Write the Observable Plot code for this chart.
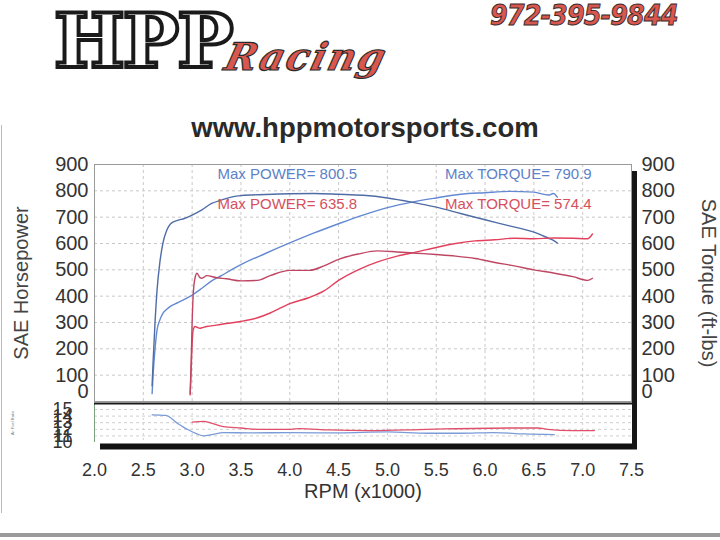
<!DOCTYPE html>
<html>
<head>
<meta charset="utf-8">
<script src="https://cdn.jsdelivr.net/npm/d3@7"></script>
<script src="https://cdn.jsdelivr.net/npm/@observablehq/plot@0.6"></script>
<style>
  html, body { margin: 0; padding: 0; background: #fff; }
  #page { position: relative; width: 720px; height: 540px; overflow: hidden; background: #fff; font-family: "Liberation Sans", Arial, sans-serif; }
  .abs { position: absolute; }
  #hpp { left: 54px; top: 2px; line-height: 1.05; font-family: "DejaVu Serif", serif; font-weight: bold; font-size: 75px; color: #fff;
         -webkit-text-stroke: 4px #1a1a1a; letter-spacing: -2px; white-space: nowrap; }
  #racing { left: 226px; top: 38px; line-height: 1; font-family: "DejaVu Serif", serif; font-style: italic; font-weight: bold; font-size: 38px;
            color: #d9574f; -webkit-text-stroke: 1.2px #2a2a2a; letter-spacing: 2px; transform: skewX(-14deg); white-space: nowrap; }
  #phone { left: 490px; top: 2px; line-height: 1; font-family: "DejaVu Sans", sans-serif; font-style: italic; font-weight: bold; font-size: 28px;
           color: #d9574f; -webkit-text-stroke: 1px #3a2a2a; letter-spacing: -1px; transform: scaleX(0.91); transform-origin: left top; white-space: nowrap; }
  #web { left: 0; width: 730px; top: 112px; text-align: center; font-family: "Liberation Sans", Arial, sans-serif; font-weight: bold;
         font-size: 27.5px; color: #2a2a2a; }
  #edge { left: 1px; top: 125px; width: 1px; height: 388px; background: #bbb; }
  #bottombar { left: 0; top: 533px; width: 720px; height: 4px; background: #9a9a9a; }
</style>
</head>
<body>
<div id="page">
  <div id="hpp" class="abs">HPP</div>
  <div id="racing" class="abs">Racing</div>
  <div id="phone" class="abs">972-395-9844</div>
  <div id="web" class="abs">www.hppmotorsports.com</div>
  <div id="edge" class="abs"></div>
  <div id="bottombar" class="abs"></div>
  <div id="main" class="abs" style="left:0;top:150px;"></div>
  <div id="afr" class="abs" style="left:0;top:400px;"></div>
</div>
<script>
// ---------- Data ----------
// Run 1 (blue)
const blueRpm = [2.59, 2.60, 2.62, 2.64, 2.67, 2.70, 2.74, 2.78, 2.85, 2.92, 3.00, 3.10, 3.20, 3.30, 3.40, 3.50, 3.75, 4.00, 4.25, 4.50, 4.75, 5.00, 5.25, 5.50, 5.75, 6.00, 6.25, 6.50, 6.65, 6.70, 6.74];
const blueHp  = [30, 100, 200, 270, 310, 335, 350, 362, 375, 388, 404, 430, 458, 478, 500, 520, 562, 602, 640, 675, 708, 736, 757, 773, 787, 793, 798, 795, 784, 790, 776];
const blueTq  = [60, 150, 300, 420, 530, 600, 650, 675, 688, 695, 708, 728, 752, 765, 776, 782, 786, 789, 790, 787, 783, 773, 757, 738, 714, 690, 667, 643, 620, 612, 602];
// Run 2 (red)
const redRpm = [2.98, 2.99, 3.00, 3.01, 3.03, 3.05, 3.08, 3.10, 3.15, 3.25, 3.35, 3.50, 3.67, 3.80, 4.00, 4.20, 4.35, 4.50, 4.70, 4.90, 5.10, 5.30, 5.50, 5.70, 5.90, 6.10, 6.30, 6.50, 6.70, 6.90, 7.05, 7.10];
const redHp  = [25, 120, 220, 270, 285, 282, 278, 280, 285, 290, 296, 304, 318, 336, 372, 395, 420, 460, 500, 530, 552, 568, 585, 600, 610, 614, 620, 618, 621, 620, 618, 636];
const redTq  = [30, 150, 300, 400, 470, 487, 470, 468, 478, 470, 466, 458, 460, 478, 498, 498, 515, 540, 560, 572, 568, 563, 558, 552, 543, 528, 515, 500, 488, 474, 460, 468];
// Air/fuel panel
const blueAfrRpm = [2.59, 2.73, 2.85, 2.95, 3.05, 3.12, 3.20, 3.32, 3.60, 4.00, 4.50, 5.00, 5.41, 5.75, 6.09, 6.40, 6.71];
const blueAfr    = [14.2, 14.1, 12.9, 12.0, 11.3, 11.0, 11.2, 11.5, 11.45, 11.5, 11.45, 11.6, 11.4, 11.4, 11.5, 11.3, 11.2];
const redAfrRpm  = [3.00, 3.12, 3.18, 3.32, 3.50, 3.67, 4.01, 4.10, 4.40, 4.83, 5.41, 6.26, 6.54, 6.64, 6.90, 7.12];
const redAfr     = [13.1, 13.2, 13.0, 12.4, 12.2, 12.0, 12.0, 12.1, 11.9, 11.8, 12.0, 12.2, 12.2, 12.0, 11.8, 11.8];
// Ticks & labels
const xTicks = [2.0, 2.5, 3.0, 3.5, 4.0, 4.5, 5.0, 5.5, 6.0, 6.5, 7.0, 7.5];
const yTicks = [100, 200, 300, 400, 500, 600, 700, 800, 900];
const afrTicks = [10, 11, 12, 13, 14, 15];
const maxLabels = ["Max POWER= 800.5", "Max POWER= 635.8", "Max TORQUE= 790.9", "Max TORQUE= 574.4"];

// ---------- Build tables ----------
const series = (rpm, vals, name) => rpm.map((r, i) => ({rpm: r, v: vals[i], s: name}));
const curves = [
  ...series(blueRpm, blueHp, "bhp"), ...series(blueRpm, blueTq, "btq"),
  ...series(redRpm, redHp, "rhp"), ...series(redRpm, redTq, "rtq")
];
const afr = [...series(blueAfrRpm, blueAfr, "b"), ...series(redAfrRpm, redAfr, "r")];
const colors = {bhp: "#6489d2", btq: "#4f6ca6", rhp: "#e2405c", rtq: "#bf4663", b: "#7a9ad8", r: "#e0506a"};
const labelColors = ["#5d82c8", "#d6505e", "#5d82c8", "#d6505e"];
const labelData = maxLabels.map((t, i) => ({t, i, x: i < 2 ? 3.26 : 5.59, y: i % 2 === 0 ? 862 : 748}));

const font = "'Liberation Sans', Arial, sans-serif";

const main = Plot.plot({
  width: 720, height: 253,
  marginTop: 14, marginBottom: 2, marginLeft: 94, marginRight: 89,
  style: {fontFamily: font, color: "#333", background: "transparent", overflow: "visible"},
  x: {domain: [2, 7.5]},
  y: {domain: [0, 900]},
  marks: [
    Plot.ruleX(xTicks.slice(1, -1), {stroke: "#c8c8c8", strokeDasharray: "3,3"}),
    Plot.ruleY(yTicks.slice(0, -1), {stroke: "#c8c8c8", strokeDasharray: "3,3"}),
    Plot.frame({stroke: "#9a9a9a"}),
    Plot.ruleX([7.5], {stroke: "#161616", strokeWidth: 5, dx: 3, insetTop: 7, insetBottom: -3}),
    Plot.axisY(yTicks, {anchor: "left", tickSize: 0, tickPadding: 6, fontSize: 20, fill: "#333", label: null}),
    Plot.axisY([0], {anchor: "left", tickSize: 0, tickPadding: 6, fontSize: 20, fill: "#333", dy: -10, label: null}),
    Plot.axisY(yTicks, {anchor: "right", tickSize: 0, tickPadding: 10, fontSize: 20, fill: "#333", label: null}),
    Plot.axisY([0], {anchor: "right", tickSize: 0, tickPadding: 10, fontSize: 20, fill: "#333", dy: -10, label: null}),
    Plot.axisX({ticks: [], label: null}),
    Plot.text(["SAE Horsepower"], {frameAnchor: "left", textAnchor: "middle", rotate: -90, dx: -73, fontSize: 20, fill: "#444"}),
    Plot.text(["SAE Torque (ft-lbs)"], {frameAnchor: "right", textAnchor: "middle", rotate: 90, dx: 77, fontSize: 20, fill: "#444"}),
    Plot.line(curves, {x: "rpm", y: "v", z: "s", stroke: d => colors[d.s], strokeWidth: 1.4, curve: "monotone-x"}),
    Plot.text(labelData, {x: "x", y: "y", text: "t", textAnchor: "start", fill: d => labelColors[d.i], fontSize: 15})
  ]
});
document.getElementById("main").appendChild(main);

const afrPlot = Plot.plot({
  width: 720, height: 100,
  marginTop: 3, marginBottom: 58, marginLeft: 94, marginRight: 89,
  style: {fontFamily: font, color: "#333", background: "transparent", overflow: "visible"},
  x: {domain: [2, 7.5]},
  y: {domain: [10, 15], insetTop: 6},
  marks: [
    Plot.ruleX(xTicks.slice(1, -1), {stroke: "#cfcfcf", strokeDasharray: "2,3"}),
    Plot.ruleY(afrTicks.slice(1), {stroke: "#cfcfcf", strokeDasharray: "3,3"}),
    Plot.ruleX([2], {stroke: "#7da07d"}),
    Plot.ruleY([15], {dy: -6, stroke: "#1a1a1a", strokeWidth: 2, insetRight: -6}),
    Plot.ruleY([10], {dy: 4, stroke: "#121212", strokeWidth: 6, insetLeft: 6, insetRight: -6}),
    Plot.ruleX([7.5], {stroke: "#161616", strokeWidth: 5, dx: 3, insetTop: -6, insetBottom: -7}),
    Plot.axisY(afrTicks, {anchor: "left", tickSize: 0, tickPadding: 22, fontSize: 18, fill: "#333", label: null}),
    Plot.axisX(xTicks, {anchor: "bottom", tickSize: 0, tickPadding: 21, fontSize: 18, fill: "#333", tickFormat: d => d.toFixed(1), label: null}),
    Plot.text(["RPM (x1000)"], {frameAnchor: "bottom", dy: 55, fontSize: 20, fill: "#333"}),
    Plot.text(["Air Fuel Ratio"], {frameAnchor: "left", textAnchor: "middle", rotate: -90, dx: -82, fontSize: 4, fill: "#777"}),
    Plot.line(afr, {x: "rpm", y: "v", z: "s", stroke: d => colors[d.s], strokeWidth: 1.3, curve: "monotone-x"})
  ]
});
document.getElementById("afr").appendChild(afrPlot);
</script>
</body>
</html>
